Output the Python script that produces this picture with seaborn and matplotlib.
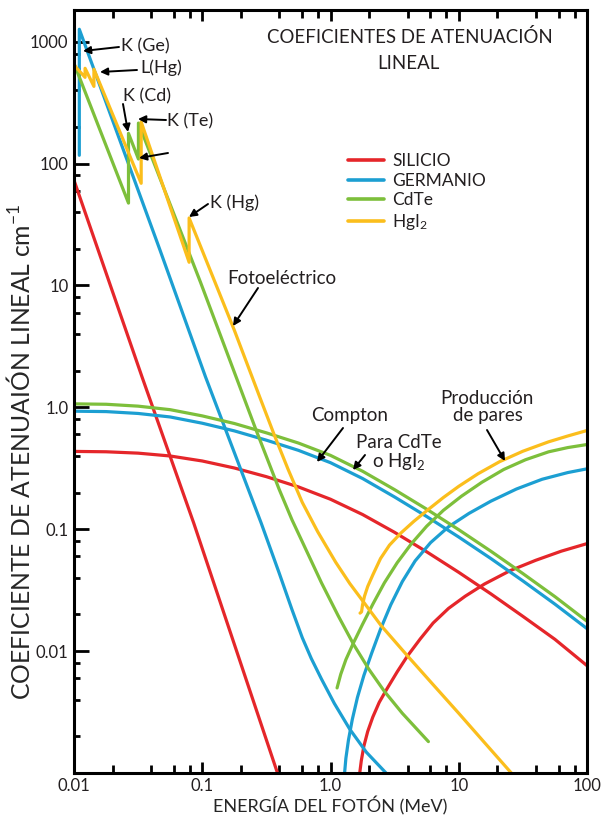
import matplotlib
matplotlib.use("Agg")
import matplotlib.pyplot as plt
import numpy as np
import pandas as pd
import seaborn as sns
from matplotlib.ticker import FixedLocator, FixedFormatter, LogLocator, NullFormatter
from matplotlib.lines import Line2D

# ---------------- data ----------------
materials = ["SILICIO", "GERMANIO", "CdTe", "HgI2"]
legend_labels = ["SILICIO", "GERMANIO", "CdTe", r"HgI$_2$"]
colors = ["#E5262A", "#1C9FD2", "#7DBF3B", "#FBBE1C"]

# energy grid used when reading the smooth Compton curves (MeV)
compton_E = [0.01, 0.0178, 0.0316, 0.0562, 0.1, 0.178, 0.316, 0.562, 1.0,
             1.78, 3.16, 5.62, 10, 17.8, 31.6, 56.2, 100]

# Silicio
si_photo_E = [0.01, 0.0339, 0.0859, 0.386]
si_photo_mu = [73, 1.78, 0.112, 0.001]
si_compton_mu = [0.435, 0.432, 0.421, 0.399, 0.363, 0.318, 0.270, 0.2225, 0.1762,
                 0.132, 0.0943, 0.0653, 0.0443, 0.0295, 0.0193, 0.0125, 0.0076]
si_pair_E = [1.690, 1.738, 1.820, 1.950, 2.138, 2.399, 2.754, 3.311, 3.981, 5.012,
             6.310, 8.318, 11.22, 15.85, 25.12, 39.81, 63.10, 100]
si_pair_mu = [0.001, 0.00126, 0.00166, 0.00219, 0.00288, 0.0038, 0.0049, 0.00676, 0.00912,
              0.0126, 0.0170, 0.0224, 0.0282, 0.0355, 0.0457, 0.0556, 0.0661, 0.0762]

# Germanio
ge_photo_E = [0.0110, 0.0110, 0.0466, 0.106, 0.2884, 0.398, 0.501, 0.6026, 0.7079,
              0.8511, 1.0715, 1.4125, 1.905, 2.710]
ge_photo_mu = [117, 1265, 19.8, 1.78, 0.112, 0.0437, 0.02188, 0.01288, 0.00871,
               0.00589, 0.00372, 0.00229, 0.00148, 0.001]
ge_compton_mu = [0.930, 0.923, 0.891, 0.834, 0.741, 0.641, 0.538, 0.444, 0.3515,
                 0.2606, 0.1839, 0.1272, 0.0863, 0.0575, 0.0377, 0.0243, 0.0153]
ge_pair_E = [1.288, 1.318, 1.380, 1.479, 1.622, 1.820, 2.089, 2.455, 2.951, 3.631,
             4.571, 6.026, 8.318, 12.02, 17.78, 28.18, 44.67, 70.79, 100]
ge_pair_mu = [0.001, 0.00132, 0.00186, 0.00275, 0.00417, 0.00631, 0.00955, 0.01514, 0.0240,
              0.0372, 0.0550, 0.0776, 0.1047, 0.1349, 0.1698, 0.2138, 0.2570, 0.2917, 0.313]

# CdTe
cdte_photo_E = [0.01, 0.0266, 0.0266, 0.0318, 0.0318, 0.097, 0.1778, 0.263, 0.398, 0.501,
                0.6026, 0.851, 1.148, 1.514, 1.995, 2.630, 3.631, 5.80]
cdte_photo_mu = [664, 47.4, 177, 109, 215, 10.6, 1.945, 0.650, 0.2123, 0.1194,
                 0.0789, 0.0363, 0.0195, 0.01135, 0.00708, 0.00468, 0.00309, 0.00181]
cdte_compton_mu = [1.068, 1.060, 1.023, 0.957, 0.851, 0.737, 0.618, 0.5095, 0.4036,
                   0.299, 0.2112, 0.1461, 0.0991, 0.066, 0.0433, 0.028, 0.01757]
cdte_pair_E = [1.125, 1.202, 1.318, 1.514, 1.778, 2.138, 2.630, 3.311, 4.266, 5.623,
               7.586, 10.47, 15.14, 22.39, 33.11, 50.12, 70.79, 100]
cdte_pair_mu = [0.00499, 0.00646, 0.00851, 0.01175, 0.0166, 0.02427, 0.0363, 0.0531, 0.0759,
                0.1059, 0.1429, 0.1862, 0.2427, 0.3090, 0.3715, 0.4315, 0.4677, 0.4955]

# HgI2
hgi2_photo_E = [0.01, 0.0122, 0.0122, 0.0143, 0.0143, 0.0334, 0.0334, 0.079, 0.079,
                0.1778, 0.2818, 0.368, 0.4677, 0.6026, 0.7943, 1.0965, 1.4125, 1.849,
                2.480, 3.917, 6.310, 10.0, 15.85, 25.70]
hgi2_photo_mu = [643, 510, 605, 430, 595, 68.9, 220, 15.5, 35.8,
                 4.30, 1.202, 0.578, 0.309, 0.166, 0.0955, 0.0537, 0.0359, 0.02455,
                 0.0162, 0.00933, 0.00531, 0.00309, 0.00178, 0.001]
hgi2_pair_E = [1.70, 1.746, 1.778, 1.841, 1.950, 2.138, 2.455, 2.884, 3.548, 4.467, 5.754,
               7.586, 10.0, 14.13, 20.89, 31.62, 50.12, 70.79, 100]
hgi2_pair_mu = [0.0205, 0.0210, 0.0240, 0.0282, 0.0339, 0.0422, 0.0575, 0.0741, 0.0933, 0.1161,
                0.1445, 0.1820, 0.2249, 0.2851, 0.3589, 0.4365, 0.5212, 0.5821, 0.6457]

x_ticks = [0.01, 0.1, 1, 10, 100]
x_ticklabels = ["0.01", "0.1", "1.0", "10", "100"]
y_ticks = [0.01, 0.1, 1, 10, 100, 1000]
y_ticklabels = ["0.01", "0.1", "1.0", "10", "100", "1000"]

curves = [
    ("SILICIO", "si_photo", si_photo_E, si_photo_mu),
    ("SILICIO", "si_compton", compton_E, si_compton_mu),
    ("SILICIO", "si_pair", si_pair_E, si_pair_mu),
    ("GERMANIO", "ge_photo", ge_photo_E, ge_photo_mu),
    ("GERMANIO", "ge_compton", compton_E, ge_compton_mu),
    ("GERMANIO", "ge_pair", ge_pair_E, ge_pair_mu),
    ("CdTe", "cdte_photo", cdte_photo_E, cdte_photo_mu),
    ("CdTe", "cdte_compton", compton_E, cdte_compton_mu),
    ("CdTe", "cdte_pair", cdte_pair_E, cdte_pair_mu),
    ("HgI2", "hgi2_photo", hgi2_photo_E, hgi2_photo_mu),
    ("HgI2", "hgi2_pair", hgi2_pair_E, hgi2_pair_mu),
]
rows = []
for mat, cid, E, mu in curves:
    for i, (e, m) in enumerate(zip(E, mu)):
        rows.append({"material": mat, "curve": cid, "order": i, "E": e, "mu": m})
df = pd.DataFrame(rows)

# ---------------- styling ----------------
sns.set_theme(style="ticks")
FONT = "Lato"
plt.rcParams["font.family"] = [FONT, "DejaVu Sans"]
plt.rcParams["mathtext.fontset"] = "custom"
plt.rcParams["mathtext.rm"] = FONT
plt.rcParams["mathtext.it"] = FONT + ":italic"
plt.rcParams["mathtext.bf"] = FONT + ":bold"
plt.rcParams["text.color"] = "#231F20"

W, H = 606, 816
fig = plt.figure(figsize=(W / 100, H / 100), dpi=100)
L, R, T, B = 74, 587, 10, 773
ax = fig.add_axes([L / W, 1 - B / H, (R - L) / W, (B - T) / H])

sns.lineplot(data=df, x="E", y="mu", hue="material", units="curve",
             estimator=None, sort=False, palette=dict(zip(materials, colors)),
             hue_order=materials, linewidth=2.3, legend=False, ax=ax)

ax.set_xscale("log")
ax.set_yscale("log")
ax.set_xlim(0.01, 100)
ax.set_ylim(0.001, 1820)

ax.xaxis.set_major_locator(FixedLocator(x_ticks))
ax.xaxis.set_major_formatter(FixedFormatter(x_ticklabels))
ax.yaxis.set_major_locator(FixedLocator(y_ticks))
ax.yaxis.set_major_formatter(FixedFormatter(y_ticklabels))
ax.xaxis.set_minor_locator(LogLocator(base=10, subs=(2, 4, 6, 8), numticks=20))
ax.yaxis.set_minor_locator(LogLocator(base=10, subs=(2, 4, 6, 8), numticks=20))
ax.xaxis.set_minor_formatter(NullFormatter())
ax.yaxis.set_minor_formatter(NullFormatter())

for s in ax.spines.values():
    s.set_visible(True)
    s.set_linewidth(2.2)
    s.set_color("black")

ax.tick_params(which="both", direction="in", top=True, right=False,
               width=2.0, color="black", labelsize=12, labelcolor="#231F20")
ax.tick_params(axis="y", which="major", length=11, pad=4)
ax.tick_params(axis="y", which="minor", length=4.5)
ax.tick_params(axis="x", which="major", length=8, pad=3.5)
ax.tick_params(axis="x", which="minor", length=5.5)

ax.set_xlabel("ENERGÍA DEL FOTÓN (MeV)", fontsize=13, va="baseline")
ax.xaxis.set_label_coords(0.499, -0.0511)
ax.set_ylabel(r"COEFICIENTE DE ATENUAIÓN LINEAL cm$^{-1}$", fontsize=17.8,
              va="center", ha="center")
ax.yaxis.set_label_coords(-0.106, 0.421)

# title inside the plot
ax.text(0.655, 0.965, "COEFICIENTES DE ATENUACIÓN", transform=ax.transAxes,
        ha="center", va="center", fontsize=13.4)
ax.text(0.651, 0.930, "LINEAL", transform=ax.transAxes,
        ha="center", va="center", fontsize=13.4)

# legend
handles = [Line2D([], [], color=c, lw=2.6) for c in colors]
ax.legend(handles, legend_labels, loc="upper left", bbox_to_anchor=(0.534, 0.812),
          frameon=False, fontsize=12.5, handlelength=2.1, handletextpad=0.45,
          labelspacing=0.2, borderaxespad=0, borderpad=0)

# annotations (positions in axes fraction)
def fx(px):
    return (px - L) / (R - L)

def fy(py):
    return (B - py) / (B - T)

arrow = dict(arrowstyle="-|>", color="black", lw=1.4, shrinkA=0, shrinkB=0,
             mutation_scale=11)

def arr(tail, tip):
    ax.annotate("", xy=(fx(tip[0]), fy(tip[1])), xytext=(fx(tail[0]), fy(tail[1])),
                xycoords="axes fraction", textcoords="axes fraction", arrowprops=arrow)

def lab(px, py, s, ha="left", size=13.5):
    ax.text(fx(px), fy(py), s, transform=ax.transAxes, ha=ha, va="center", fontsize=size)

lab(121, 46, "K (Ge)", size=13)
arr((119, 47), (83, 51))
lab(140, 68, "L(Hg)", size=13)
arr((137, 70), (100, 72))
lab(123, 96, "K (Cd)", size=13)
arr((123, 104), (128, 132))
lab(167, 121, "K (Te)", size=13)
arr((166, 120), (138, 119))
arr((168, 153), (139, 158))
lab(210, 203, "K (Hg)", size=13)
arr((208, 204), (189, 217))

lab(282, 279, "Fotoeléctrico", ha="center")
arr((258, 288), (233, 326))
lab(350, 415, "Compton", ha="center")
arr((343, 428), (317, 462))
lab(399, 443, "Para CdTe", ha="center")
lab(399, 461, r"o HgI$_2$", ha="center")
arr((365, 455), (353, 470))
lab(487, 398, "Producción", ha="center")
lab(488, 416, "de pares", ha="center")
arr((487, 430), (505, 461))

fig.savefig("out.png", dpi=100, facecolor="white")
